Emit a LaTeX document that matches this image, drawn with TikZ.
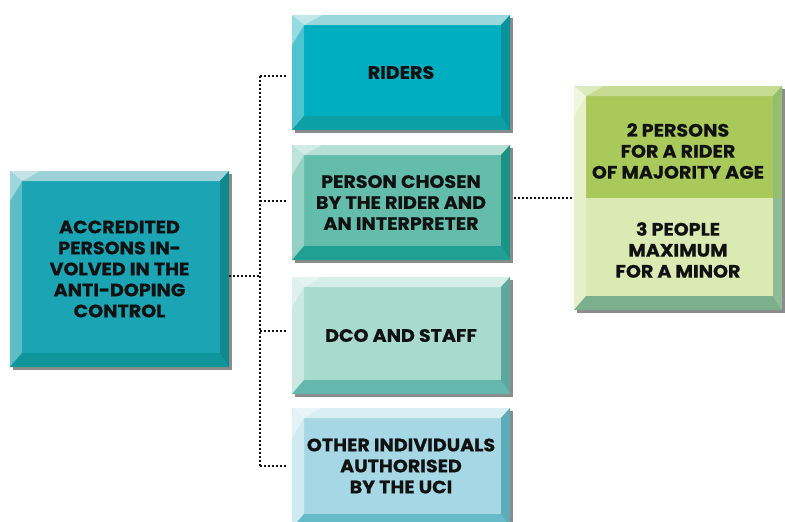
\documentclass[tikz,border=0pt]{standalone}
\usepackage{fontspec}
\setmainfont{Poppins}[BoldFont={Poppins Bold}, BoldFeatures={FakeBold=0.6}, FakeStretch=1.06]
\usetikzlibrary{shadows,calc}
\definecolor{txt}{HTML}{111111}
\definecolor{shd}{HTML}{8C8C8C}
% left box
\definecolor{lface}{HTML}{1BA4B4}\definecolor{llight}{HTML}{9CD1D8}\definecolor{ldark}{HTML}{10959A}\definecolor{lleft}{HTML}{5DBCC6}
% riders
\definecolor{aface}{HTML}{00AEC1}\definecolor{alight}{HTML}{9AD7DC}\definecolor{adark}{HTML}{0C9FA5}\definecolor{aleft}{HTML}{4FC3CF}
% person chosen
\definecolor{bface}{HTML}{64BDAB}\definecolor{blight}{HTML}{B6DFD5}\definecolor{bdark}{HTML}{1FA092}\definecolor{bleft}{HTML}{93D1C3}
% dco
\definecolor{cface}{HTML}{A8DACE}\definecolor{clight}{HTML}{D6EEE8}\definecolor{cdark}{HTML}{66B7AE}\definecolor{cleft}{HTML}{C9E9E1}
% other
\definecolor{dface}{HTML}{A5D8E4}\definecolor{dlight}{HTML}{D8EFF4}\definecolor{ddark}{HTML}{66BBC9}\definecolor{dleft}{HTML}{CFEBF2}
% right box
\definecolor{rtop}{HTML}{A9C95B}\definecolor{rbot}{HTML}{DBE9B3}\definecolor{rlight}{HTML}{C7DC93}\definecolor{rdark}{HTML}{7BAF8D}\definecolor{rleft}{HTML}{E6F0C8}\definecolor{rright}{HTML}{95BD70}
\tikzset{
  bevel/.style n args={4}{fill=#1, draw=none, inner sep=0pt, outer sep=0pt,
    drop shadow={shadow xshift=3pt, shadow yshift=-3pt, fill=shd, opacity=1},
    path picture={
      \coordinate (nw) at (path picture bounding box.north west);
      \coordinate (ne) at (path picture bounding box.north east);
      \coordinate (sw) at (path picture bounding box.south west);
      \coordinate (se) at (path picture bounding box.south east);
      \fill[#2] (nw) -- (ne) -- ([shift={(-9pt,-10pt)}]ne) -- ([shift={(12pt,-10pt)}]nw) -- cycle;
      \fill[#4] (nw) -- ([shift={(12pt,-10pt)}]nw) -- ([shift={(12pt,14pt)}]sw) -- (sw) -- cycle;
      \fill[#3] (sw) -- (se) -- ([shift={(-9pt,14pt)}]se) -- ([shift={(12pt,14pt)}]sw) -- cycle;
      \fill[#3!92!black] (ne) -- (se) -- ([shift={(-9pt,14pt)}]se) -- ([shift={(-9pt,-10pt)}]ne) -- cycle;
      \fill[white, opacity=0.4] (nw) -- ([shift={(30pt,0pt)}]nw) -- ([shift={(12pt,-10pt)}]nw) -- ([shift={(0pt,-30pt)}]nw) -- cycle;
    }},
  lbl/.style={font=\bfseries\fontsize{18}{21}\selectfont, text=txt, align=center},
  conn/.style={draw=txt, line width=1.6pt, dash pattern=on 1.6pt off 2.4pt}
}
\begin{document}
\begin{tikzpicture}[x=1pt,y=-1pt]
\useasboundingbox (0,0) rectangle (785,522);
% boxes
\node[bevel={lface}{llight}{ldark}{lleft}, minimum width=219pt, minimum height=196pt] (acc) at (119.5,269) {};
\node[lbl] at (acc.center) {ACCREDITED\\PERSONS IN-\\VOLVED IN THE\\ANTI-DOPING\\CONTROL};
\node[bevel={aface}{alight}{adark}{aleft}, minimum width=218pt, minimum height=115pt] (rid) at (401,72.5) {};
\node[lbl] at (rid.center) {RIDERS};
\node[bevel={bface}{blight}{bdark}{bleft}, minimum width=218pt, minimum height=115pt] (per) at (401,202.5) {};
\node[lbl] at (per.center) {PERSON CHOSEN\\BY THE RIDER AND\\AN INTERPRETER};
\node[bevel={cface}{clight}{cdark}{cleft}, minimum width=218pt, minimum height=117pt] (dco) at (401,335.5) {};
\node[lbl] at (dco.center) {DCO AND STAFF};
\node[bevel={dface}{dlight}{ddark}{dleft}, minimum width=218pt, minimum height=120pt] (oth) at (401,468) {};
\node[lbl] at ([yshift=2pt]oth.center) {OTHER INDIVIDUALS\\AUTHORISED\\BY THE UCI};
% right split box
\node[fill=rbot, draw=none, inner sep=0pt, outer sep=0pt, minimum width=208pt, minimum height=224pt,
  drop shadow={shadow xshift=3pt, shadow yshift=-3pt, fill=shd, opacity=1},
  path picture={
    \coordinate (nw) at (path picture bounding box.north west);
    \coordinate (ne) at (path picture bounding box.north east);
    \coordinate (sw) at (path picture bounding box.south west);
    \coordinate (se) at (path picture bounding box.south east);
    \fill[rtop] (nw) rectangle ($(ne)!0.5!(se)$);
    \fill[rlight] (nw) -- (ne) -- ([shift={(-9pt,-10pt)}]ne) -- ([shift={(12pt,-10pt)}]nw) -- cycle;
    \fill[rleft] (nw) -- ([shift={(12pt,-10pt)}]nw) -- ([shift={(12pt,14pt)}]sw) -- (sw) -- cycle;
    \fill[rdark] (sw) -- (se) -- ([shift={(-9pt,14pt)}]se) -- ([shift={(12pt,14pt)}]sw) -- cycle;
    \fill[rright] (ne) -- ($(ne)!0.5!(se)$) -- ([shift={(-9pt,0pt)}]$(ne)!0.5!(se)$) -- ([shift={(-9pt,-10pt)}]ne) -- cycle;
    \fill[rdark!80!rbot] ($(ne)!0.5!(se)$) -- (se) -- ([shift={(-9pt,14pt)}]se) -- ([shift={(-9pt,0pt)}]$(ne)!0.5!(se)$) -- cycle;
    \fill[white, opacity=0.4] (nw) -- ([shift={(30pt,0pt)}]nw) -- ([shift={(12pt,-10pt)}]nw) -- ([shift={(0pt,-30pt)}]nw) -- cycle;
  }] (rbox) at (678,198) {};
\node[lbl] (maj) at (678,151) {2 PERSONS\\FOR A RIDER\\OF MAJORITY AGE};
\node[lbl] (min) at (678,250) {3 PEOPLE\\MAXIMUM\\FOR A MINOR};
% connectors
\coordinate (s1) at (260,76);
\coordinate (s2) at (260,201);
\coordinate (s0) at (260,276);
\coordinate (s3) at (260,331);
\coordinate (s4) at (260,466);
\draw[conn] (s1) -- (s4);
\draw[conn] (acc.east |- s0) -- (s0);
\draw[conn] (s1) -- ([xshift=-6pt]rid.west |- s1);
\draw[conn] (s2) -- ([xshift=-6pt]per.west |- s2);
\draw[conn] (s3) -- ([xshift=-6pt]dco.west |- s3);
\draw[conn] (s4) -- ([xshift=-6pt]oth.west |- s4);
\draw[conn] ([xshift=4pt]per.east |- rbox.west) -- ([xshift=-2pt]rbox.west);
\end{tikzpicture}
\end{document}
